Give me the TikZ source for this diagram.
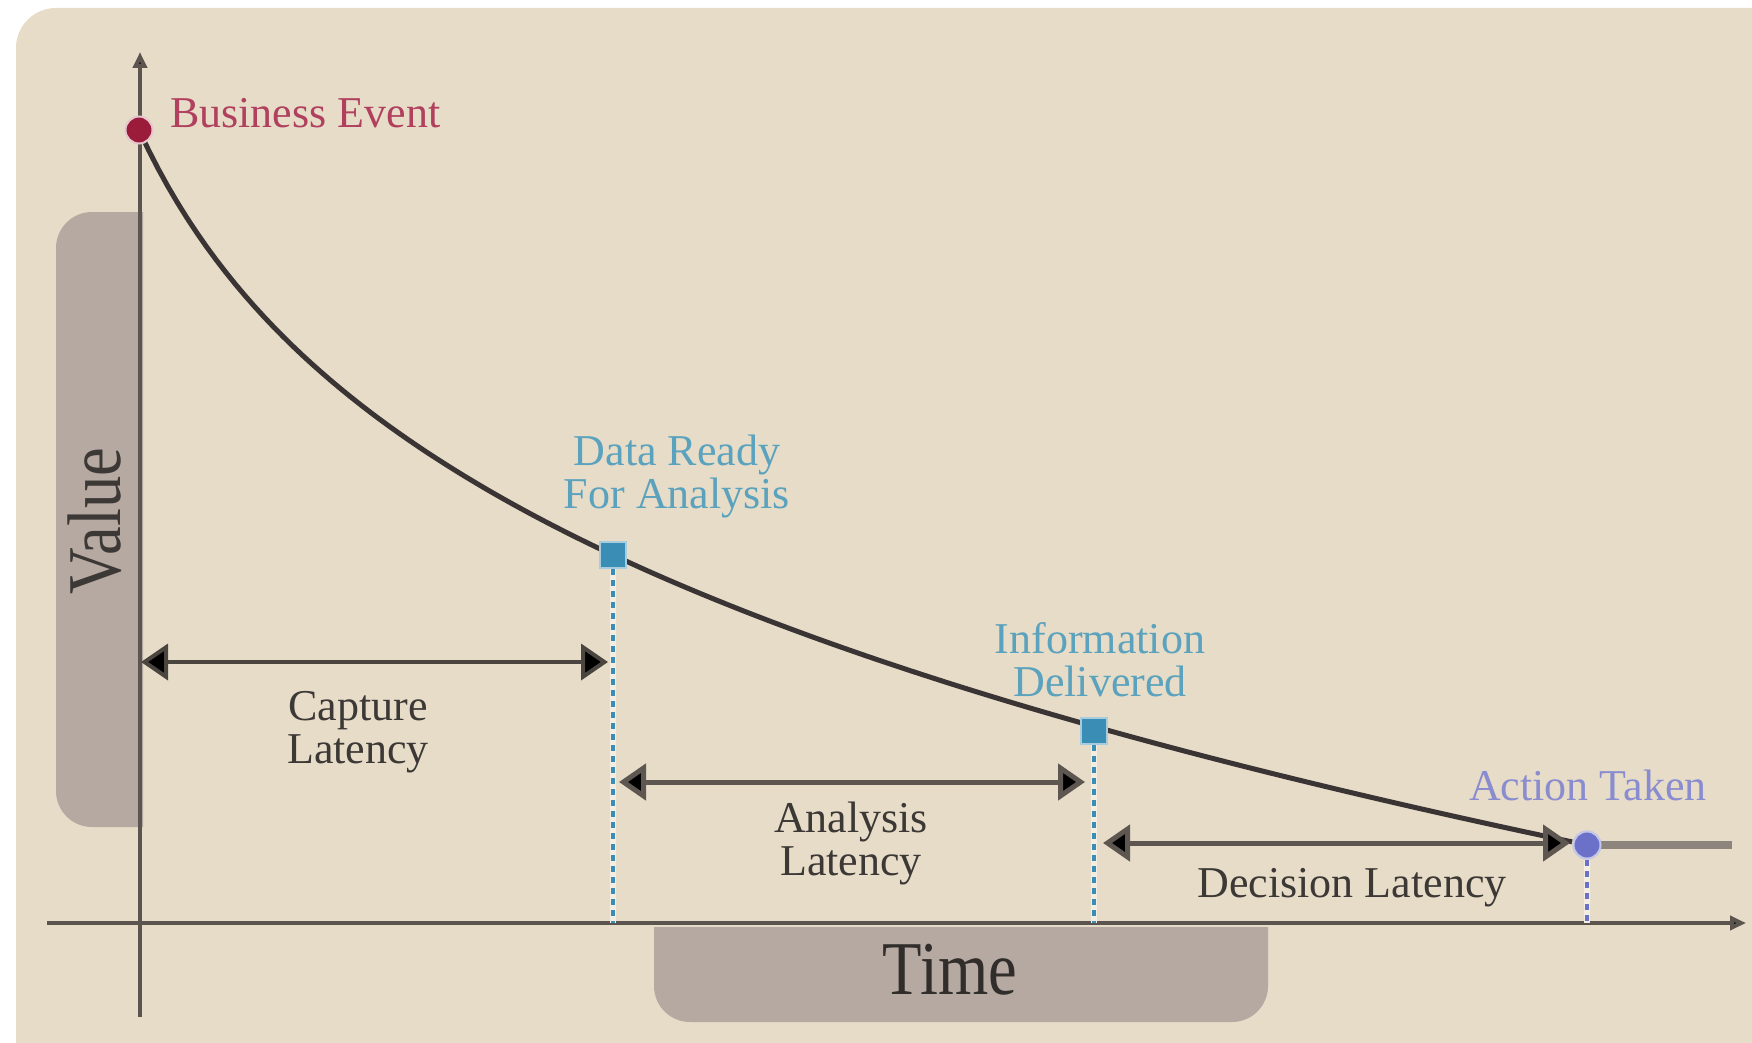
\documentclass[tikz,border=0pt]{standalone}
\usepackage{fontspec}
\setmainfont{Liberation Serif}
\newfontfamily\bigserif[FakeStretch=0.85]{Liberation Serif}
\usetikzlibrary{arrows.meta}
\definecolor{bgc}{HTML}{E6DCC7}
\definecolor{boxc}{HTML}{B5A9A2}
\definecolor{axisc}{HTML}{5C544E}
\definecolor{curvec}{HTML}{3A3434}
\definecolor{arrc}{HTML}{5E5650}
\definecolor{crim}{HTML}{9B1B3A}
\definecolor{crimtxt}{HTML}{B0405E}
\definecolor{tealc}{HTML}{3A8DB5}
\definecolor{tealtxt}{HTML}{5AA2BD}
\definecolor{violc}{HTML}{6B70C8}
\definecolor{violtxt}{HTML}{8A8CD0}
\definecolor{labtxt}{HTML}{3C3836}
\definecolor{restc}{HTML}{8C847D}
\definecolor{halo}{HTML}{F4EEE2}
\tikzset{
  lbl/.style={inner sep=0pt, font=\fontsize{44}{43}\selectfont},
  axisline/.style={draw=axisc, line width=4pt, -{Triangle[length=16pt,width=14pt,fill=black]}},
  latarrow/.style={draw=arrc, line width=5pt, {Triangle[length=27pt,width=36pt,fill=black]}-{Triangle[length=27pt,width=36pt,fill=black]}},
  dotline/.style={line width=3.5pt, dash pattern=on 6pt off 5pt},
  haloline/.style={draw=halo, line width=6pt},
  sqmark/.style={rectangle, fill=tealc, draw=tealc!45!white, line width=2pt, minimum size=26pt, inner sep=0pt},
  dotmark/.style={circle, line width=2pt, minimum size=27pt, inner sep=0pt}
}
\begin{document}
\begin{tikzpicture}[x=1pt,y=-1pt]
\useasboundingbox (0,0) rectangle (1752,1043);
\fill[white] (0,0) rectangle (1752,1043);
\clip (0,0) rectangle (1752,1043);
\fill[bgc, rounded corners=40pt] (16,8) rectangle (1820,1120);
% Value box
\begin{scope}
\clip (0,0) rectangle (143,1043);
\fill[boxc, rounded corners=36pt] (56,212) rectangle (220,827);
\end{scope}
% Time box
\begin{scope}
\clip (0,927) rectangle (1752,1043);
\fill[boxc, rounded corners=36pt] (654,860) rectangle (1268,1022);
\end{scope}
\node[rotate=90, anchor=base, inner sep=0pt, text=labtxt, font=\bigserif\fontsize{76}{76}\selectfont] (val) at (120,521) {Value};
\node[anchor=base, inner sep=0pt, text=labtxt!80!black, font=\bigserif\fontsize{76}{76}\selectfont] (time) at (950,994) {Time};
% axes
\coordinate (yb) at (140,1017);
\coordinate (yt) at (140,52);
\coordinate (xl) at (47,923);
\coordinate (xr) at (1746,923);
\draw[axisline] (yb) -- (yt);
\draw[axisline] (xl) -- (xr);
% curve
\draw[curvec, line width=5pt, line join=round] plot[domain=0:1433, samples=150] ({139+\x},{130+245.1*ln(1+\x/115)+0.0521*\x});
% action rest line
\coordinate (ae) at (1732,845);
\node[dotmark, fill=violc, draw=violc!40!white] (at) at (1587,845) {};
\draw[restc, line width=8pt] (at.center) -- (ae);
\node[dotmark, fill=violc, draw=violc!40!white] (at2) at (1587,845) {};
% markers
\node[dotmark, fill=crim, draw=crim!25!white] (be) at (139,130) {};
\node[sqmark] (dr) at (613,555) {};
\node[sqmark] (id) at (1094,731) {};
% dotted drops
\draw[haloline] (dr.south) -- (dr.south |- xl);
\draw[tealc, dotline] (dr.south) -- (dr.south |- xl);
\draw[haloline] (id.south) -- (id.south |- xl);
\draw[tealc, dotline] (id.south) -- (id.south |- xl);
\draw[haloline] (at2.south) -- (at2.south |- xl);
\draw[violc, dotline] (at2.south) -- (at2.south |- xl);
% latency arrows
\coordinate (c1) at (141,662);
\coordinate (c2) at (608,662);
\coordinate (a1) at (619,782);
\coordinate (a2) at (1085,782);
\coordinate (d1) at (1103,843);
\coordinate (d2) at (1570,843);
\draw[latarrow, draw=arrc!80!black, line width=4pt] (c1) -- (c2);
\draw[latarrow] (a1) -- (a2);
\draw[latarrow] (d1) -- (d2);
% labels
\node[lbl, anchor=base west, text=crimtxt] (lbe) at (170,128) {Business Event};
\node[lbl, anchor=north, align=center, text=tealtxt] (ldr) at (677,435) {Data Ready\\For Analysis};
\node[lbl, anchor=north, align=center, text=tealtxt] (lid) at (1100,622) {Information\\Delivered};
\node[lbl, anchor=base, text=violtxt] (lat) at (1588,800) {Action Taken};
\node[lbl, anchor=north, align=center, text=labtxt] (lcl) at (358,691) {Capture\\Latency};
\node[lbl, anchor=north, align=center, text=labtxt] (lal) at (851,802) {Analysis\\Latency};
\node[lbl, anchor=base, text=labtxt] (ldl) at (1352,897) {Decision Latency};
\end{tikzpicture}
\end{document}
